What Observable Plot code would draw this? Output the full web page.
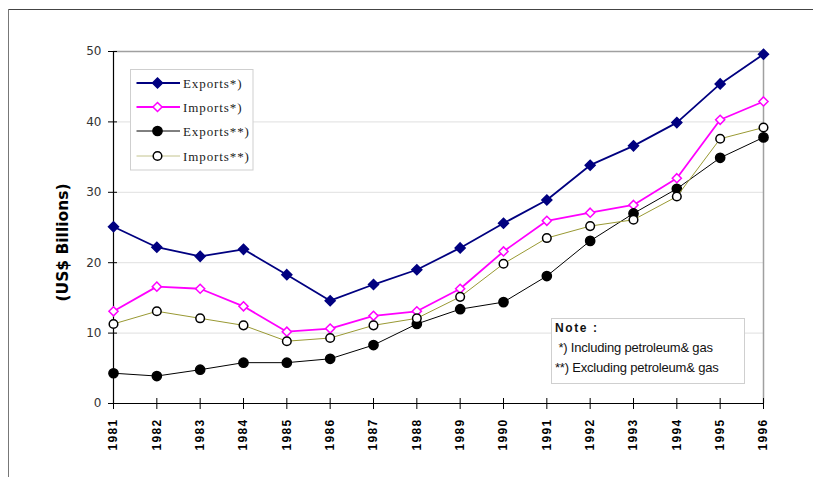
<!DOCTYPE html>
<html>
<head>
<meta charset="utf-8">
<script src="https://cdn.jsdelivr.net/npm/d3@7"></script>
<script src="https://cdn.jsdelivr.net/npm/@observablehq/plot@0.6"></script>
<style>
  html, body { margin: 0; padding: 0; background: white; }
  #chart { width: 813px; height: 477px; overflow: hidden; }
</style>
</head>
<body>
<div id="chart"></div>
<script>
const years = [1981, 1982, 1983, 1984, 1985, 1986, 1987, 1988, 1989, 1990, 1991, 1992, 1993, 1994, 1995, 1996];
const exportsIncl = [25.1, 22.2, 20.9, 21.9, 18.3, 14.6, 16.9, 19.0, 22.1, 25.6, 28.9, 33.85, 36.6, 39.9, 45.4, 49.6];
const importsIncl = [13.1, 16.6, 16.3, 13.8, 10.2, 10.65, 12.45, 13.1, 16.3, 21.6, 25.95, 27.1, 28.2, 32.0, 40.3, 42.9];
const exportsExcl = [4.3, 3.9, 4.8, 5.8, 5.8, 6.35, 8.3, 11.3, 13.4, 14.4, 18.1, 23.1, 27.0, 30.5, 34.9, 37.8];
const importsExcl = [11.3, 13.1, 12.1, 11.1, 8.85, 9.3, 11.1, 12.1, 15.15, 19.85, 23.5, 25.2, 26.1, 29.4, 37.6, 39.2];
const seriesNames = ["Exports*)", "Imports*)", "Exports**)", "Imports**)"];
const yTicks = [0, 10, 20, 30, 40, 50];
const gridValues = [10, 20, 30, 40];
const yTitle = "(US$ Billions)";
const noteTitle = "Note :";
const noteLines = [" *) Including petroleum& gas", "**) Excluding petroleum& gas"];

const seriesValues = [exportsIncl, importsIncl, exportsExcl, importsExcl];
const styles = [
  {stroke: "#000080", width: 1.8, symbol: "diamond2", fill: "#000080", mstroke: "#000080", r: 4.5, legendLine: "#000080"},
  {stroke: "#ff00ff", width: 1.8, symbol: "diamond2", fill: "white", mstroke: "#ff00ff", r: 4.1, legendLine: "#ff00ff"},
  {stroke: "#000000", width: 1, symbol: "circle", fill: "black", mstroke: "black", r: 4.6, legendLine: "#000000"},
  {stroke: "#999933", width: 1, symbol: "circle", fill: "white", mstroke: "black", r: 4.3, legendLine: "#c4c48e"}
];

const series = seriesNames.map((name, i) => ({
  name,
  style: styles[i],
  data: years.map((year, j) => ({year, value: seriesValues[i][j]}))
}));

const seriesMarks = series.flatMap(s => [
  Plot.line(s.data, {x: "year", y: "value", stroke: s.style.stroke, strokeWidth: s.style.width}),
  Plot.dot(s.data, {x: "year", y: "value", symbol: s.style.symbol, r: s.style.r, fill: s.style.fill, stroke: s.style.mstroke, strokeWidth: 1.5})
]);

const chart = Plot.plot({
  width: 813,
  height: 477,
  marginLeft: 113,
  marginRight: 50,
  marginTop: 51,
  marginBottom: 74,
  style: {background: "white", fontFamily: "'DejaVu Sans', sans-serif"},
  x: {domain: [1981, 1996], label: null},
  y: {domain: [0, 50], label: null},
  marks: [
    Plot.ruleY(gridValues, {stroke: "#e6e6e6", strokeWidth: 1.2}),
    Plot.ruleY([50], {stroke: "#a0a0a0", strokeWidth: 1.5}),
    Plot.ruleX([1996], {stroke: "#a0a0a0", strokeWidth: 1.5}),
    Plot.axisY(yTicks, {tickSize: 9, dx: 4, tickFormat: () => "", stroke: "black", strokeOpacity: 1, label: null}),
    Plot.axisY(yTicks, {tickSize: 0, tickPadding: 12, fontSize: 12, fill: "#333", label: null}),
    Plot.axisX(years, {tickSize: 11, dy: -5, tickFormat: () => "", stroke: "black", strokeOpacity: 1, label: null}),
    Plot.axisX(years, {tickSize: 0, tickPadding: 15, tickRotate: -90, tickFormat: d => String(d), fontSize: 12, fontWeight: "bold", fill: "black", fontFamily: "'Liberation Sans', Arial, sans-serif", label: null}),
    Plot.ruleY([0], {stroke: "black", strokeWidth: 1.2}),
    Plot.ruleX([1981], {stroke: "black", strokeWidth: 1.2}),
    Plot.text([yTitle], {frameAnchor: "left", textAnchor: "middle", rotate: -90, dx: -50, dy: 15, fontSize: 15.5, fontWeight: "bold", fill: "black"}),
    ...seriesMarks
  ]
});

document.getElementById("chart").appendChild(chart);
const svg = d3.select(chart);

// letter spacing on rotated x labels
svg.selectAll('g[aria-label="x-axis tick label"] text').style("letter-spacing", "1.3px");

// outer frame (top and left edges visible)
const frame = svg.append("g");
frame.append("line").attr("x1", 8).attr("x2", 813).attr("y1", 9.5).attr("y2", 9.5).attr("stroke", "#444");
frame.append("line").attr("x1", 8.5).attr("x2", 8.5).attr("y1", 9).attr("y2", 477).attr("stroke", "#777");

// legend
const lg = svg.append("g").attr("text-anchor", "start");
lg.append("rect").attr("x", 130.5).attr("y", 69.5).attr("width", 122.5).attr("height", 100.5)
  .attr("fill", "white").attr("stroke", "#cfcfcf");
const legendY = [83, 107, 131, 156];
series.forEach((s, i) => {
  const y = legendY[i];
  lg.append("line").attr("x1", 136.5).attr("x2", 180).attr("y1", y).attr("y2", y)
    .attr("stroke", s.style.legendLine).attr("stroke-width", s.style.width);
  const sym = s.style.symbol === "circle" ? d3.symbolCircle : d3.symbolDiamond2;
  lg.append("path").attr("d", d3.symbol(sym, Math.PI * s.style.r * s.style.r)())
    .attr("transform", `translate(157.5,${y})`)
    .attr("fill", s.style.fill).attr("stroke", s.style.mstroke).attr("stroke-width", 1.5);
  lg.append("text").attr("x", 183).attr("y", y + 4.5).text(s.name)
    .attr("text-anchor", "start")
    .attr("font-family", "'Liberation Serif', 'Times New Roman', serif")
    .attr("font-size", 13).attr("letter-spacing", "0.9px").attr("fill", "#222");
});

// note box
const nb = svg.append("g").attr("text-anchor", "start");
nb.append("rect").attr("x", 551.5).attr("y", 318.5).attr("width", 193).attr("height", 65)
  .attr("fill", "white").attr("stroke", "#cfcfcf");
nb.append("text").attr("x", 555).attr("y", 332).text(noteTitle)
  .attr("text-anchor", "start")
  .attr("font-family", "'Liberation Sans', Arial, sans-serif").attr("font-weight", "bold")
  .attr("font-size", 12).attr("letter-spacing", "1.6px").attr("fill", "#111");
noteLines.forEach((t, i) => {
  nb.append("text").attr("x", 555).attr("y", 352 + i * 20).text(t)
    .attr("text-anchor", "start")
    .style("white-space", "pre")
    .attr("font-family", "'Liberation Sans', Arial, sans-serif")
    .attr("font-size", 13).attr("letter-spacing", "-0.2px").attr("fill", "#111");
});
</script>
</body>
</html>
